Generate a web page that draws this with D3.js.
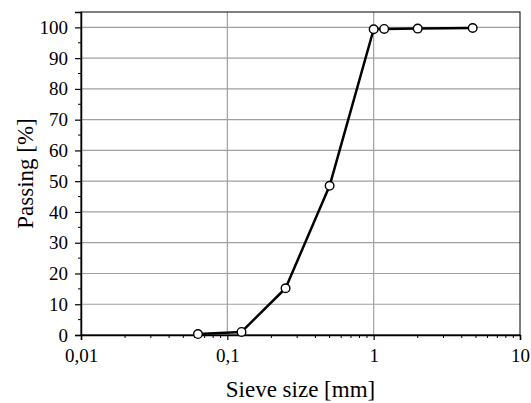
<!DOCTYPE html>
<html>
<head>
<meta charset="utf-8">
<script src="https://cdn.jsdelivr.net/npm/d3@7"></script>
</head>
<body style="margin:0; background:#fff">
<div id="chart"></div>
<script>
// Sieve analysis data
const sieveSizes = [0.063, 0.125, 0.25, 0.5, 1, 1.18, 2, 4.75];
const passing = [0.3, 1.0, 15.2, 48.5, 99.4, 99.5, 99.6, 99.8];
const xTickValues = [0.01, 0.1, 1, 10];
const xTickLabels = ["0,01", "0,1", "1", "10"];
const yTickValues = [0, 10, 20, 30, 40, 50, 60, 70, 80, 90, 100];

const SERIF = "'Liberation Serif'";
const WIDTH = 531;
const HEIGHT = 403;
const margin = { top: 12, right: 11, bottom: 68, left: 81 };
const innerW = WIDTH - margin.left - margin.right;
const innerH = HEIGHT - margin.top - margin.bottom;

const svg = d3.select("#chart")
  .append("svg")
  .attr("width", WIDTH)
  .attr("height", HEIGHT);

const g = svg.append("g")
  .attr("transform", `translate(${margin.left},${margin.top})`);

const x = d3.scaleLog().domain([0.01, 10]).range([0, innerW]);
const y = d3.scaleLinear().domain([0, 105]).range([innerH, 0]);

// Grid lines
g.append("g")
  .selectAll("line")
  .data(yTickValues)
  .enter()
  .append("line")
  .attr("x1", 0)
  .attr("x2", innerW)
  .attr("y1", d => y(d))
  .attr("y2", d => y(d))
  .attr("stroke", "#a0a0a0")
  .attr("stroke-width", 1.2);

g.append("g")
  .selectAll("line")
  .data(xTickValues.slice(1, -1))
  .enter()
  .append("line")
  .attr("x1", d => x(d))
  .attr("x2", d => x(d))
  .attr("y1", 0)
  .attr("y2", innerH)
  .attr("stroke", "#a0a0a0")
  .attr("stroke-width", 1.2);

// Minor ticks
const xMinor = [];
for (let p = 0.01; p < 10; p *= 10) {
  for (let k = 2; k <= 9; k++) xMinor.push(p * k);
}
g.append("g")
  .selectAll("line")
  .data(xMinor)
  .enter()
  .append("line")
  .attr("x1", d => x(d))
  .attr("x2", d => x(d))
  .attr("y1", innerH)
  .attr("y2", innerH + 3)
  .attr("stroke", "#000")
  .attr("stroke-width", 1);

g.append("g")
  .selectAll("line")
  .data(d3.range(5, 105, 10))
  .enter()
  .append("line")
  .attr("x1", -3)
  .attr("x2", 0)
  .attr("y1", d => y(d))
  .attr("y2", d => y(d))
  .attr("stroke", "#000")
  .attr("stroke-width", 1);

// Frame
g.append("rect")
  .attr("width", innerW)
  .attr("height", innerH)
  .attr("fill", "none")
  .attr("stroke", "#000")
  .attr("stroke-width", 1);

// Axes
const xAxis = g.append("g")
  .attr("transform", `translate(0,${innerH})`)
  .call(d3.axisBottom(x)
    .tickValues(xTickValues)
    .tickFormat((d, i) => xTickLabels[i])
    .tickSize(5)
    .tickPadding(9));

const yAxis = g.append("g")
  .call(d3.axisLeft(y)
    .tickValues(yTickValues)
    .tickSize(6)
    .tickPadding(7));

[xAxis, yAxis].forEach(a => {
  a.attr("font-family", SERIF).attr("font-size", 19);
  a.select(".domain").attr("stroke", "#000").attr("stroke-width", 1.5);
  a.selectAll(".tick line").attr("stroke", "#000").attr("stroke-width", 1.2);
  a.selectAll(".tick text").attr("fill", "#000").attr("font-family", SERIF);
});

// Curve
const line = d3.line()
  .x((d, i) => x(sieveSizes[i]))
  .y(d => y(d));

g.append("path")
  .datum(passing)
  .attr("d", line)
  .attr("fill", "none")
  .attr("stroke", "#000")
  .attr("stroke-width", 2.5)
  .attr("stroke-linejoin", "round");

g.append("g")
  .selectAll("circle")
  .data(passing)
  .enter()
  .append("circle")
  .attr("cx", (d, i) => x(sieveSizes[i]))
  .attr("cy", d => y(d))
  .attr("r", 4.3)
  .attr("fill", "#fff")
  .attr("stroke", "#000")
  .attr("stroke-width", 1.4);

// Axis titles
svg.append("text")
  .attr("x", margin.left + innerW / 2)
  .attr("y", 397)
  .attr("text-anchor", "middle")
  .attr("font-family", SERIF)
  .attr("font-size", 23)
  .text("Sieve size [mm]");

svg.append("text")
  .attr("transform", `translate(33,${margin.top + innerH / 2}) rotate(-90)`)
  .attr("text-anchor", "middle")
  .attr("font-family", SERIF)
  .attr("font-size", 23)
  .text("Passing [%]");
</script>
</body>
</html>
